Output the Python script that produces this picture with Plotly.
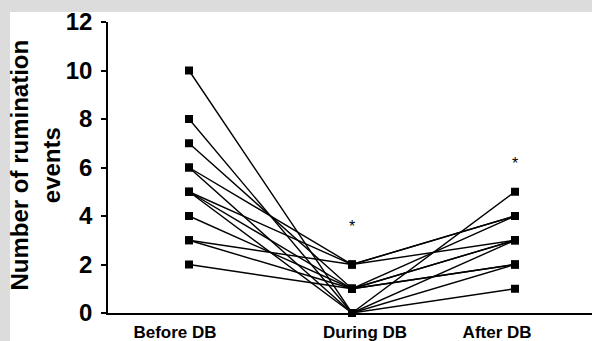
import plotly.graph_objects as go

# ---- data ----
categories = ["Before DB", "During DB", "After DB"]
before = [10, 8, 6, 5, 7, 5, 4, 3, 2, 6, 5, 3]
during = [0, 0, 0, 0, 1, 1, 1, 1, 1, 2, 2, 2]
after = [5, 3, 2, 1, 4, 3, 3, 2, 2, 4, 3, 4]
y_ticks = [0, 2, 4, 6, 8, 10, 12]
sig_marks = ["", "*", "*"]
sig_heights = [None, 3.57, 6.17]
label_shift = [-0.086, 0.08, -0.11]

x_pos = list(range(len(categories)))
FONT = "Liberation Sans, Arial, sans-serif"

fig = go.Figure()
for b, d, a in zip(before, during, after):
    fig.add_trace(go.Scatter(
        x=x_pos, y=[b, d, a], mode="lines+markers",
        line=dict(color="black", width=1.4),
        marker=dict(symbol="square", size=8, color="black"),
        cliponaxis=False, showlegend=False, hoverinfo="skip"))

for xp, m, h in zip(x_pos, sig_marks, sig_heights):
    if m:
        fig.add_annotation(x=xp, y=h, xref="x", yref="y", text=m,
                           showarrow=False, font=dict(family=FONT, size=16, color="black"))

# y-axis title
fig.add_annotation(xref="paper", yref="paper", x=-0.151, y=0.51,
                   text="Number of rumination<br>events", textangle=-90,
                   showarrow=False, xanchor="center", yanchor="middle",
                   font=dict(family=FONT, size=24, color="black", weight="bold"))

# white panel on gray page
fig.add_shape(type="rect", xref="paper", yref="paper", x0=-0.2025, x1=1.02,
              y0=-0.2, y1=1.0344, fillcolor="white", line=dict(width=0), layer="below")

fig.update_layout(
    width=592, height=341,
    margin=dict(l=108, r=0, t=22, b=28, autoexpand=False),
    paper_bgcolor="#dcdcdc", plot_bgcolor="rgba(0,0,0,0)",
    font=dict(family=FONT, color="black"),
)
fig.update_xaxes(
    range=[-0.4969, 2.4724], showgrid=False, zeroline=False, automargin=False,
    showline=True, linecolor="black", linewidth=1.6,
    tickmode="array",
    tickvals=[p + s for p, s in zip(x_pos, label_shift)],
    ticktext=categories, ticks="", ticklabelstandoff=3,
    tickfont=dict(family=FONT, size=17, color="black", weight="bold"),
)
fig.update_yaxes(
    range=[0, 12], showgrid=False, zeroline=False, automargin=False,
    showline=True, linecolor="black", linewidth=1.6,
    tickmode="array", tickvals=y_ticks,
    ticks="outside", ticklen=5, tickwidth=1.6, tickcolor="black",
    ticklabelstandoff=4,
    tickfont=dict(family=FONT, size=24, color="black", weight="bold"),
)

fig.write_html("out.html", config={"displayModeBar": False},
               post_script="document.body.style.margin='0';document.body.style.overflow='hidden';")
